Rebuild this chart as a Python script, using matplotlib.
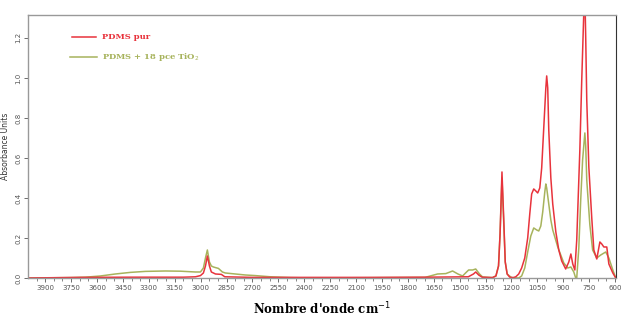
import numpy as np
import matplotlib
matplotlib.use("Agg")
import matplotlib.pyplot as plt
from matplotlib.ticker import MultipleLocator

# FTIR spectra (wavenumber cm-1, absorbance)
wn_pur = [3995, 3700, 3400, 3100, 3030, 3001, 2984, 2972, 2961, 2949, 2938, 2914, 2880, 2860,
          2700, 2000, 1700, 1450, 1420, 1407, 1390, 1370, 1310, 1290, 1275, 1266, 1255, 1245,
          1236, 1225, 1210, 1190, 1175, 1158, 1141, 1123, 1106, 1094, 1083, 1071, 1059, 1048,
          1036, 1025, 1013, 1001, 996, 990, 984, 972, 961, 943, 926, 909, 886, 868, 856, 845,
          833, 822, 804, 793, 781, 775, 770, 764, 752, 735, 723, 706, 688, 677, 665, 648, 636,
          613, 596]
abs_pur = [0.0, 0.003, 0.004, 0.004, 0.006, 0.012, 0.025, 0.06, 0.11, 0.06, 0.03, 0.02, 0.018, 0.006,
           0.003, 0.003, 0.004, 0.006, 0.02, 0.03, 0.015, 0.004, 0.002, 0.01, 0.06, 0.22, 0.53, 0.3,
           0.08, 0.02, 0.004, 0.002, 0.006, 0.02, 0.05, 0.1, 0.2, 0.32, 0.42, 0.445, 0.435, 0.425,
           0.45, 0.55, 0.75, 0.95, 1.01, 0.95, 0.74, 0.5, 0.37, 0.23, 0.14, 0.085, 0.045, 0.08, 0.12, 0.07,
           0.04, 0.19, 0.64, 0.99, 1.33, 1.42, 1.2, 0.89, 0.555, 0.3, 0.14, 0.095, 0.18, 0.17, 0.155, 0.155, 0.07,
           0.025, 0.0]

wn_tio2 = [3995, 3750, 3668, 3581, 3494, 3407, 3320, 3204, 3117, 3030, 3001, 2984, 2972, 2961, 2949,
           2938, 2926, 2914, 2897, 2874, 2857, 2799, 2741, 2683, 2596, 2480, 2364, 1700, 1628,
           1580, 1541, 1510, 1483, 1460, 1448, 1425, 1407, 1385, 1367, 1310, 1290, 1275, 1266, 1255,
           1245, 1236, 1225, 1200, 1158, 1141, 1123, 1106, 1088, 1071, 1054, 1042, 1030, 1019, 1007,
           1001, 996, 984, 972, 961, 932, 897, 874, 856, 839, 828, 822, 810, 799, 788, 775, 770,
           764, 746, 730, 706, 683, 654, 636, 613, 596]
abs_tio2 = [0.0, 0.002, 0.004, 0.01, 0.02, 0.028, 0.033, 0.035, 0.034, 0.03, 0.03, 0.05, 0.1, 0.14, 0.08,
            0.06, 0.055, 0.052, 0.048, 0.03, 0.025, 0.02, 0.015, 0.012, 0.006, 0.002, 0.0, 0.003, 0.02,
            0.022, 0.035, 0.02, 0.01, 0.03, 0.04, 0.04, 0.045, 0.02, 0.005, 0.002, 0.01, 0.06, 0.22, 0.5,
            0.28, 0.08, 0.02, 0.002, 0.0, 0.01, 0.05, 0.13, 0.21, 0.25, 0.24, 0.235, 0.26, 0.33, 0.43,
            0.47, 0.45, 0.37, 0.29, 0.24, 0.155, 0.075, 0.05, 0.055, 0.03, 0.0, 0.0, 0.15, 0.39, 0.59, 0.725, 0.66,
            0.49, 0.265, 0.14, 0.1, 0.115, 0.13, 0.1, 0.04, 0.0]

x_ticks = [3900, 3750, 3600, 3450, 3300, 3150, 3000, 2850, 2700, 2550, 2400, 2250, 2100,
           1950, 1800, 1650, 1500, 1350, 1200, 1050, 900, 750, 600]
y_ticks = [0.0, 0.2, 0.4, 0.6, 0.8, 1.0, 1.2]

red = "#e8333c"
green = "#a7b35c"

fig = plt.figure(figsize=(6.25, 3.24), dpi=100)
ax = fig.add_axes([0.045, 0.142, 0.9405, 0.812])

ax.plot(wn_tio2, abs_tio2, color=green, lw=1.1)
ax.plot(wn_pur, abs_pur, color=red, lw=1.1)

ax.set_xlim(3999, 595)
ax.set_ylim(0, 1.315)
ax.set_xticks(x_ticks)
ax.xaxis.set_minor_locator(MultipleLocator(50))
ax.set_yticks(y_ticks)
ax.set_yticklabels(["%.1f" % v for v in y_ticks], rotation=90, va="center")
ax.tick_params(axis="both", labelsize=5, colors="#555555", length=3, width=0.6, pad=2)
ax.tick_params(axis="x", which="minor", length=2, width=0.5, color="#555555")

for s in ["top", "left", "bottom"]:
    ax.spines[s].set_color("#999999")
    ax.spines[s].set_linewidth(1.0)
ax.spines["right"].set_color("#333333")
ax.spines["right"].set_linewidth(0.8)

ax.set_ylabel("Absorbance Units", fontsize=5.5, color="#333333", labelpad=4)
ax.set_xlabel("Nombre d'onde cm$^{-1}$", fontsize=8.5, fontweight="bold",
              family="DejaVu Serif", labelpad=7)

# hand-placed legend like the original
ax.plot([0.075, 0.116], [0.916, 0.916], color=red, lw=1.1, transform=ax.transAxes)
ax.plot([0.071, 0.117], [0.840, 0.840], color=green, lw=1.1, transform=ax.transAxes)
ax.text(0.126, 0.916, "PDMS pur", color=red, fontsize=6, fontweight="bold",
        family="DejaVu Serif", va="center", transform=ax.transAxes)
ax.text(0.126, 0.840, "PDMS + 18 pce TiO$_2$", color=green, fontsize=6, fontweight="bold",
        family="DejaVu Serif", va="center", transform=ax.transAxes)

fig.savefig("out.png", dpi=100)
